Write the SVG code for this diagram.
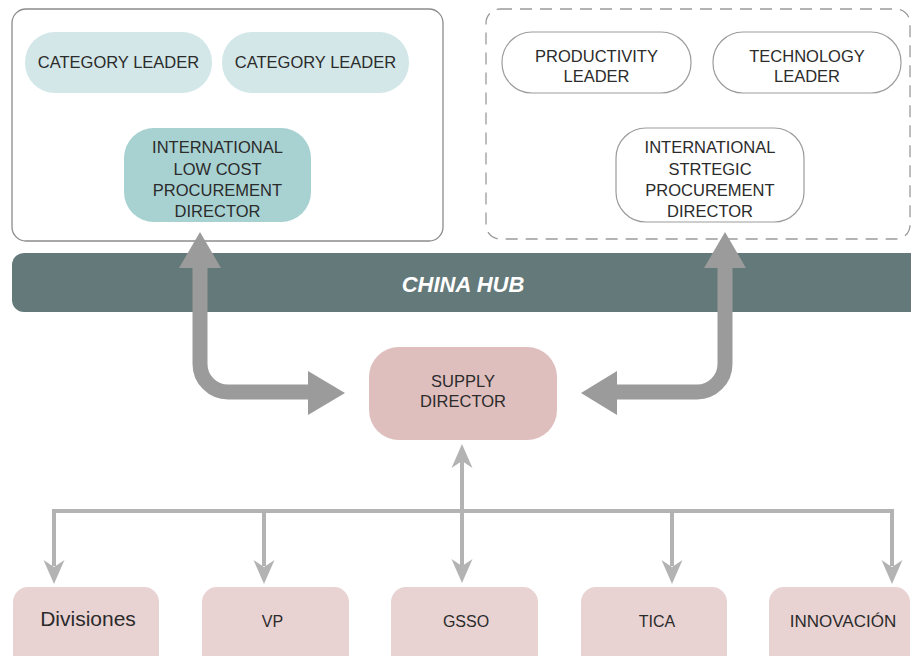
<svg xmlns="http://www.w3.org/2000/svg" width="911" height="656" viewBox="0 0 911 656">
  <style>
    text { font-family: "Liberation Sans", Arial, sans-serif; fill: #2b2b2b; text-anchor: middle; }
    .t { font-size: 16.5px; }
    .frame { fill: #ffffff; stroke: #8c8c8c; stroke-width: 1.3; }
    .dash { fill: #ffffff; stroke: #9a9a9a; stroke-width: 1.3; stroke-dasharray: 12 8; }
    .cat { fill: #d3e7e8; }
    .low { fill: #a8d1d2; }
    .outline { fill: #ffffff; stroke: #9c9c9c; stroke-width: 1.2; }
    .supply { fill: #dfbebe; }
    .unit { fill: #e9d2d2; }
    .hub { fill: #647979; }
    .hubtext { font-size: 22px; font-weight: bold; font-style: italic; fill: #ffffff; }
    .big { fill: none; stroke: #9b9b9b; stroke-width: 15; }
    .bighead { fill: #9b9b9b; }
    .thin { fill: none; stroke: #b3b3b3; stroke-width: 4; }
    .thinhead { fill: #b3b3b3; }
    .unitlabel { font-size: 16px; }
  </style>
  <defs>
    <!-- notched head for the thin distribution lines, tip at origin pointing down -->
    <path id="tipDown" d="M-10.5,-24 L0,0 L10.5,-24 L0,-17 Z"/>
  </defs>

  <!-- low-cost procurement frame -->
  <g id="lowCostFrame">
    <rect class="frame" x="12" y="9" width="431" height="232" rx="14"/>
  </g>
  <!-- strategic procurement frame -->
  <g id="strategicFrame">
    <rect class="dash" x="486" y="9" width="424" height="230" rx="14"/>
  </g>

  <g id="categoryLeader1">
    <rect class="cat" x="25" y="32" width="187" height="61" rx="30"/>
    <text class="t" x="118.5" y="68">CATEGORY LEADER</text>
  </g>
  <g id="categoryLeader2">
    <rect class="cat" x="222" y="32" width="187" height="61" rx="30"/>
    <text class="t" x="315.5" y="68">CATEGORY LEADER</text>
  </g>
  <g id="lowCostDirector">
    <rect class="low" x="124" y="128" width="187" height="94" rx="30"/>
    <text class="t" x="217.5" y="153">INTERNATIONAL</text>
    <text class="t" x="217.5" y="175">LOW COST</text>
    <text class="t" x="217.5" y="196">PROCUREMENT</text>
    <text class="t" x="217.5" y="217">DIRECTOR</text>
  </g>

  <g id="productivityLeader">
    <rect class="outline" x="502" y="32" width="189" height="61" rx="30"/>
    <text class="t" x="596.5" y="62">PRODUCTIVITY</text>
    <text class="t" x="596.5" y="82">LEADER</text>
  </g>
  <g id="technologyLeader">
    <rect class="outline" x="713" y="32" width="188" height="61" rx="30"/>
    <text class="t" x="807" y="62">TECHNOLOGY</text>
    <text class="t" x="807" y="82">LEADER</text>
  </g>
  <g id="strategicDirector">
    <rect class="outline" x="616" y="128" width="188" height="94" rx="30"/>
    <text class="t" x="710" y="153">INTERNATIONAL</text>
    <text class="t" x="710" y="175">STRTEGIC</text>
    <text class="t" x="710" y="196">PROCUREMENT</text>
    <text class="t" x="710" y="217">DIRECTOR</text>
  </g>

  <g id="chinaHub">
    <path class="hub" d="M24,253 H911 V312 H24 A12,12 0 0 1 12,300 V265 A12,12 0 0 1 24,253 Z"/>
    <text class="hubtext" x="463" y="292">CHINA HUB</text>
  </g>

  <g id="supplyDirector">
    <rect class="supply" x="369" y="347" width="188" height="93" rx="30"/>
    <text class="t" x="463" y="387">SUPPLY</text>
    <text class="t" x="463" y="407">DIRECTOR</text>
  </g>

  <g id="divisiones">
    <rect class="unit" x="13" y="587" width="146" height="85" rx="15"/>
    <text x="88" y="626" style="font-size:21px">Divisiones</text>
  </g>
  <g id="vp">
    <rect class="unit" x="202" y="587" width="147" height="85" rx="15"/>
    <text class="unitlabel" x="272.5" y="627">VP</text>
  </g>
  <g id="gsso">
    <rect class="unit" x="391" y="587" width="147" height="85" rx="15"/>
    <text class="unitlabel" x="466" y="627">GSSO</text>
  </g>
  <g id="tica">
    <rect class="unit" x="581" y="587" width="146" height="85" rx="15"/>
    <text class="unitlabel" x="657" y="627">TICA</text>
  </g>
  <g id="innovacion">
    <rect class="unit" x="769" y="587" width="141" height="85" rx="15"/>
    <text x="843" y="627" style="font-size:17px">INNOVACIÓN</text>
  </g>

  <g id="connectors">
    <!-- broad two-way links between the hub directors and supply -->
    <path class="big" d="M200,266 V364 A28,28 0 0 0 228,392 H310"/>
    <polygon class="bighead" points="200,232 179,268 221,268"/>
    <polygon class="bighead" points="345,393 308,371 308,415"/>

    <path class="big" d="M725,266 V364 A28,28 0 0 1 697,392 H615"/>
    <polygon class="bighead" points="725,232 704,268 746,268"/>
    <polygon class="bighead" points="581,393 617,371 617,415"/>

    <!-- distribution bus to the business units -->
    <path class="thin" d="M54,566 V511 H892 V566"/>
    <path class="thin" d="M264,511 V566"/>
    <path class="thin" d="M672,511 V566"/>
    <path class="thin" d="M462,461 V566"/>
    <use class="thinhead" href="#tipDown" x="54" y="584"/>
    <use class="thinhead" href="#tipDown" x="264" y="584"/>
    <use class="thinhead" href="#tipDown" x="462" y="583"/>
    <use class="thinhead" href="#tipDown" x="672" y="584"/>
    <use class="thinhead" href="#tipDown" x="892" y="584"/>
    <use class="thinhead" href="#tipDown" transform="translate(462,444) rotate(180)"/>
  </g>
</svg>
